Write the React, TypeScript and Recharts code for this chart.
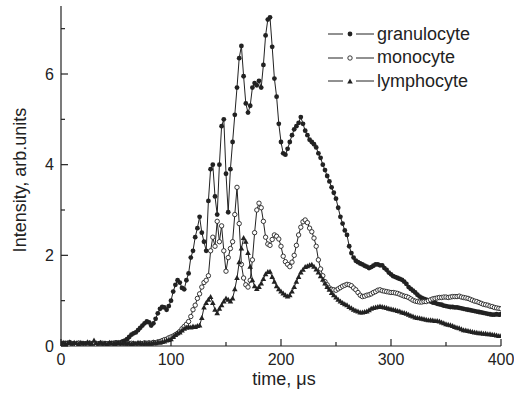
import { Legend, Line, LineChart, XAxis, YAxis } from "recharts";

const INK = "#222";
const FONT = "'Liberation Sans', Arial, Helvetica, sans-serif";

// time, µs (sampling grid of the measurement)
const TIME = [
  0, 2, 4, 6, 8, 10, 12, 14, 16, 18, 20, 22, 24, 26, 28, 30, 32, 34, 36, 38,
  40, 42, 44, 46, 48, 50, 52, 54, 56, 58, 60, 62, 64, 66, 68, 70, 72, 74, 76, 78,
  80, 82, 84, 86, 88, 90, 92, 94, 96, 98, 100, 102, 104, 106, 108, 110, 112, 114, 116, 118,
  120, 122, 124, 126, 128, 130, 132, 134, 136, 138, 140, 142, 144, 146, 148, 150, 152, 154, 156, 158,
  160, 162, 164, 166, 168, 170, 172, 174, 176, 178, 180, 182, 184, 186, 188, 190, 192, 194, 196, 198,
  200, 202, 204, 206, 208, 210, 212, 214, 216, 218, 220, 222, 224, 226, 228, 230, 232, 234, 236, 238,
  240, 242, 244, 246, 248, 250, 252, 254, 256, 258, 260, 262, 264, 266, 268, 270, 272, 274, 276, 278,
  280, 282, 284, 286, 288, 290, 292, 294, 296, 298, 300, 302, 304, 306, 308, 310, 312, 314, 316, 318,
  320, 322, 324, 326, 328, 330, 332, 334, 336, 338, 340, 342, 344, 346, 348, 350, 352, 354, 356, 358,
  360, 362, 364, 366, 368, 370, 372, 374, 376, 378, 380, 382, 384, 386, 388, 390, 392, 394, 396, 398,
  400,
];

const GRANULOCYTE = [
  0.06, 0.04, 0.07, 0.05, 0.08, 0.05, 0.06, 0.04, 0.07, 0.05, // 0-18
  0.05, 0.06, 0.04, 0.07, 0.05, 0.06, 0.04, 0.05, 0.07, 0.05, // 20-38
  0.06, 0.05, 0.06, 0.07, 0.06, 0.08, 0.07, 0.08, 0.1, 0.12, // 40-58
  0.15, 0.2, 0.25, 0.28, 0.3, 0.35, 0.4, 0.45, 0.5, 0.54, // 60-78
  0.52, 0.45, 0.5, 0.6, 0.72, 0.82, 0.86, 0.85, 0.8, 0.88, // 80-98
  1.0, 1.2, 1.35, 1.45, 1.4, 1.28, 1.25, 1.45, 1.6, 1.95, // 100-118
  2.1, 2.4, 2.6, 2.85, 2.5, 2.3, 2.1, 3.2, 3.9, 4.0, // 120-138
  3.3, 2.9, 4.0, 4.85, 5.0, 3.8, 2.95, 3.9, 4.5, 5.1, // 140-158
  5.7, 6.35, 6.62, 5.95, 5.35, 5.15, 5.3, 5.7, 5.8, 5.75, // 160-178
  5.85, 5.7, 6.2, 6.85, 7.2, 7.25, 6.6, 5.9, 5.5, 4.9, // 180-198
  4.5, 4.25, 4.22, 4.35, 4.5, 4.65, 4.78, 4.85, 4.92, 5.05, // 200-218
  4.9, 4.75, 4.65, 4.55, 4.5, 4.45, 4.38, 4.25, 4.15, 4.0, // 220-238
  3.88, 3.75, 3.63, 3.5, 3.38, 3.25, 3.05, 2.85, 2.7, 2.55, // 240-258
  2.45, 2.2, 2.05, 1.95, 1.88, 1.85, 1.82, 1.8, 1.77, 1.75, // 260-278
  1.72, 1.74, 1.77, 1.8, 1.8, 1.78, 1.78, 1.72, 1.68, 1.62, // 280-298
  1.58, 1.54, 1.52, 1.5, 1.48, 1.46, 1.42, 1.37, 1.3, 1.26, // 300-318
  1.22, 1.18, 1.13, 1.09, 1.06, 1.04, 1.02, 1.0, 0.98, 0.96, // 320-338
  0.95, 0.93, 0.92, 0.91, 0.89, 0.88, 0.87, 0.86, 0.86, 0.85, // 340-358
  0.85, 0.84, 0.83, 0.82, 0.81, 0.8, 0.79, 0.78, 0.77, 0.76, // 360-378
  0.75, 0.74, 0.73, 0.72, 0.71, 0.7, 0.69, 0.69, 0.7, 0.69, // 380-398
  0.7,
];

const MONOCYTE = [
  0.03, 0.05, 0.04, 0.06, 0.03, 0.05, 0.04, 0.03, 0.06, 0.04,
  0.05, 0.03, 0.04, 0.06, 0.05, 0.04, 0.03, 0.05, 0.04, 0.06,
  0.04, 0.05, 0.03, 0.04, 0.06, 0.05, 0.04, 0.05, 0.03, 0.04,
  0.05, 0.04, 0.06, 0.05, 0.04, 0.05, 0.06, 0.05, 0.07, 0.06,
  0.07, 0.06, 0.08, 0.07, 0.09, 0.1, 0.12, 0.14, 0.15, 0.18,
  0.2, 0.22, 0.25, 0.28, 0.32, 0.38, 0.43, 0.48, 0.54, 0.65,
  0.8, 0.9, 1.05, 1.15, 1.3, 1.4, 1.45, 1.55, 2.1, 2.4,
  2.2, 2.75, 2.3, 2.65, 2.1, 1.65, 1.95, 2.15, 2.3, 2.9,
  3.5, 2.7, 1.8, 1.5, 1.35, 1.3, 1.45, 1.9, 2.5, 3.0,
  3.15, 3.05, 2.75, 2.4, 2.25, 2.22, 2.35, 2.45, 2.42, 2.36,
  2.2, 1.98, 1.86, 1.8, 1.75, 1.85, 2.0, 2.22, 2.45, 2.62,
  2.74, 2.78, 2.72, 2.6, 2.52, 2.38, 2.2, 1.9, 1.7, 1.55,
  1.42, 1.35, 1.28, 1.25, 1.24, 1.23, 1.26, 1.29, 1.32, 1.34,
  1.36, 1.35, 1.33, 1.28, 1.24, 1.18, 1.12, 1.09, 1.1, 1.12,
  1.13, 1.15, 1.18, 1.2, 1.23, 1.24, 1.22, 1.21, 1.2, 1.19,
  1.18, 1.18, 1.17, 1.16, 1.14, 1.12, 1.1, 1.09, 1.07, 1.04,
  1.01, 0.99, 0.98, 0.97, 0.97, 0.98, 0.98, 1.0, 1.02, 1.04,
  1.05, 1.06, 1.07, 1.07, 1.08, 1.08, 1.07, 1.08, 1.09, 1.09,
  1.09, 1.1, 1.08, 1.07, 1.06, 1.05, 1.03, 1.01, 0.99, 0.98,
  0.96, 0.94, 0.92, 0.91, 0.9, 0.88, 0.87, 0.85, 0.84, 0.83,
  0.82,
];

const LYMPHOCYTE = [
  0.05, 0.07, 0.04, 0.06, 0.08, 0.05, 0.07, 0.06, 0.04, 0.07,
  0.06, 0.05, 0.08, 0.06, 0.05, 0.12, 0.06, 0.05, 0.07, 0.05,
  0.06, 0.04, 0.07, 0.05, 0.06, 0.05, 0.07, 0.06, 0.05, 0.07,
  0.05, 0.06, 0.04, 0.06, 0.05, 0.07, 0.06, 0.05, 0.06, 0.05,
  0.06, 0.05, 0.07, 0.06, 0.08, 0.07, 0.09, 0.1, 0.12, 0.13,
  0.15, 0.2, 0.24, 0.28, 0.3, 0.34, 0.38, 0.4, 0.42, 0.41,
  0.43, 0.42, 0.44, 0.45, 0.62, 0.85, 0.95, 1.02, 1.08, 0.95,
  0.8, 0.72, 0.82, 0.9, 0.98, 1.05, 1.02, 0.98, 1.05, 1.25,
  1.5, 1.85, 2.15, 2.38, 2.3, 2.05, 1.75, 1.45, 1.32, 1.26,
  1.3, 1.38, 1.48, 1.58, 1.63, 1.64, 1.52, 1.42, 1.32, 1.25,
  1.2, 1.16, 1.12, 1.09, 1.12, 1.2, 1.3, 1.42, 1.52, 1.62,
  1.68, 1.74, 1.76, 1.78, 1.79, 1.75, 1.69, 1.62, 1.54, 1.46,
  1.38, 1.3, 1.24, 1.17, 1.12, 1.07, 1.02, 0.98, 0.95, 0.92,
  0.9, 0.86, 0.83, 0.8, 0.78, 0.76, 0.74, 0.74, 0.75, 0.76,
  0.79, 0.82, 0.84, 0.85, 0.86, 0.87, 0.86, 0.85, 0.84, 0.82,
  0.81, 0.8, 0.79, 0.77, 0.76, 0.74, 0.73, 0.71, 0.69, 0.67,
  0.65, 0.63, 0.62, 0.61, 0.6, 0.59, 0.58, 0.57, 0.57, 0.56,
  0.55, 0.55, 0.54, 0.52, 0.5, 0.48, 0.47, 0.46, 0.44, 0.42,
  0.4, 0.39, 0.37, 0.35, 0.34, 0.33, 0.32, 0.31, 0.3, 0.29,
  0.28, 0.28, 0.27, 0.27, 0.26, 0.26, 0.25, 0.24, 0.23, 0.22,
  0.22,
];

const SERIES = ["granulocyte", "monocyte", "lymphocyte"];
const X_TICKS = [0, 50, 100, 150, 200, 250, 300, 350, 400];
const Y_TICKS = [0, 1, 2, 3, 4, 5, 6, 7];

const data = TIME.map((t, i) => ({
  t,
  granulocyte: GRANULOCYTE[i],
  monocyte: MONOCYTE[i],
  lymphocyte: LYMPHOCYTE[i],
}));

function Marker({ kind, cx, cy }: { kind: string; cx: number; cy: number }) {
  if (kind === "monocyte") {
    return <circle cx={cx} cy={cy} r={2.2} fill="#fff" stroke={INK} strokeWidth={0.9} />;
  }
  if (kind === "lymphocyte") {
    return (
      <polygon
        points={`${cx},${cy - 3} ${cx - 2.8},${cy + 2} ${cx + 2.8},${cy + 2}`}
        fill={INK}
      />
    );
  }
  return <circle cx={cx} cy={cy} r={2.4} fill={INK} />;
}

const dotFor = (kind: string) => (p: any) =>
  <Marker key={`${kind}-${p.index}`} kind={kind} cx={p.cx} cy={p.cy} />;

function BottomTick({ x, y, payload }: any) {
  const major = payload.value % 100 === 0;
  return (
    <g>
      <line x1={x} x2={x} y1={y} y2={y - (major ? 7 : 4)} stroke={INK} strokeWidth={1.2} />
      {major && (
        <text x={x} y={y + 19} textAnchor="middle" fontSize={16} fill={INK} fontFamily={FONT}>
          {payload.value}
        </text>
      )}
    </g>
  );
}

function TopTick({ x, y, payload }: any) {
  const major = payload.value % 100 === 0;
  return <line x1={x} x2={x} y1={y} y2={y + (major ? 7 : 4)} stroke={INK} strokeWidth={1.2} />;
}

function LeftTick({ x, y, payload }: any) {
  const major = payload.value % 2 === 0;
  return (
    <g>
      <line x1={x} x2={x + (major ? 7 : 4)} y1={y} y2={y} stroke={INK} strokeWidth={1.2} />
      {major && (
        <text x={x - 7} y={y} dy="0.36em" textAnchor="end" fontSize={16} fill={INK} fontFamily={FONT}>
          {payload.value}
        </text>
      )}
    </g>
  );
}

function RightTick({ x, y }: any) {
  return <line x1={x} x2={x - 4} y1={y} y2={y} stroke={INK} strokeWidth={1.2} />;
}

function XTitle({ viewBox }: any) {
  const cx = viewBox.x + viewBox.width / 2 + 3;
  return (
    <text x={cx} y={viewBox.y + 39} textAnchor="middle" fontSize={18} fill={INK} fontFamily={FONT}>
      time, μs
    </text>
  );
}

function YTitle({ viewBox }: any) {
  const cy = viewBox.y + viewBox.height / 2 + 4;
  return (
    <text
      x={26}
      y={cy}
      transform={`rotate(-90, 26, ${cy})`}
      textAnchor="middle"
      fontSize={18}
      fill={INK}
      fontFamily={FONT}
    >
      Intensity, arb.units
    </text>
  );
}

function LegendBox({ payload }: any) {
  const entries = SERIES.map((key) =>
    (payload || []).find((e: any) => e.dataKey === key)
  ).filter(Boolean);
  return (
    <div style={{ fontFamily: FONT, fontSize: 18, color: INK }}>
      {entries.map((entry: any) => (
        <div
          key={entry.dataKey}
          style={{ display: "flex", alignItems: "center", height: 23.4, whiteSpace: "nowrap" }}
        >
          <svg width={46} height={12} style={{ marginRight: 3 }}>
            <line x1={0} x2={15} y1={6} y2={6} stroke={INK} strokeWidth={1} />
            <Marker kind={entry.dataKey} cx={22} cy={entry.dataKey === "lymphocyte" ? 6.5 : 6} />
            <line x1={28} x2={46} y1={6} y2={6} stroke={INK} strokeWidth={1} />
          </svg>
          <span>{entry.value}</span>
        </div>
      ))}
    </div>
  );
}

export default function App() {
  return (
    <div style={{ position: "absolute", left: 0, top: 0, background: "#fff" }}>
      <LineChart
        width={514}
        height={396}
        data={data}
        margin={{ top: 6, right: 13, left: 0, bottom: 0 }}
      >
        <XAxis
          dataKey="t"
          type="number"
          domain={[0, 400]}
          allowDataOverflow
          ticks={X_TICKS}
          interval={0}
          height={50}
          tickSize={0}
          tickMargin={0}
          tickLine={false}
          tick={<BottomTick />}
          axisLine={{ stroke: INK, strokeWidth: 1.2 }}
          label={<XTitle />}
        />
        <XAxis
          xAxisId="top"
          orientation="top"
          dataKey="t"
          type="number"
          domain={[0, 400]}
          allowDataOverflow
          ticks={X_TICKS}
          interval={0}
          height={0}
          tickSize={0}
          tickMargin={0}
          tickLine={false}
          tick={<TopTick />}
          axisLine={{ stroke: INK, strokeWidth: 1.2 }}
        />
        <YAxis
          type="number"
          domain={[0, 7.5]}
          allowDataOverflow
          ticks={Y_TICKS}
          interval={0}
          width={61}
          tickSize={0}
          tickMargin={0}
          tickLine={false}
          tick={<LeftTick />}
          axisLine={{ stroke: INK, strokeWidth: 1.2 }}
          label={<YTitle />}
        />
        <YAxis
          yAxisId="right"
          orientation="right"
          type="number"
          domain={[0, 7.5]}
          allowDataOverflow
          ticks={Y_TICKS}
          interval={0}
          width={0}
          tickSize={0}
          tickMargin={0}
          tickLine={false}
          tick={<RightTick />}
          axisLine={{ stroke: INK, strokeWidth: 1.2 }}
        />
        <Legend
          layout="horizontal"
          verticalAlign="middle"
          align="center"
          wrapperStyle={{ position: "absolute", left: 328, top: 22.6, width: "auto" }}
          content={<LegendBox />}
        />
        {SERIES.map((key) => (
          <Line
            key={key}
            type="linear"
            dataKey={key}
            name={key}
            stroke={INK}
            strokeWidth={1}
            dot={dotFor(key)}
            activeDot={false}
            isAnimationActive={false}
          />
        ))}
      </LineChart>
    </div>
  );
}
